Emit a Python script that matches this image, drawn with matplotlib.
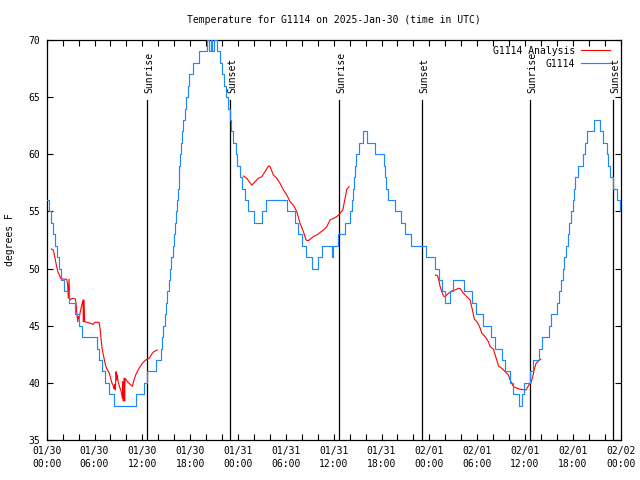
import matplotlib
matplotlib.use('Agg')
import matplotlib.pyplot as plt
from matplotlib.ticker import MultipleLocator, FixedLocator
import numpy as np

#--- Observations (hours since 2025-01-30 00:00 UTC, deg F) ---
# temperature steps: value holds from this hour until the next one
obs_hours = [0.0, 0.35, 0.55, 0.8, 1.1, 1.3, 1.5, 1.75, 2.2, 2.75, 3.5, 4.0, 4.45,
             6.35, 6.6, 6.95, 7.3, 7.8, 8.4, 11.25, 12.2, 12.63, 13.7,
             14.3, 14.45, 14.6, 14.8, 14.95, 15.15, 15.3, 15.5, 15.65, 15.8, 15.95,
             16.1, 16.25, 16.35, 16.45, 16.55, 16.65, 16.75, 16.9, 17.0, 17.1, 17.3,
             17.5, 17.7, 17.9, 18.3, 19.1, 20.1, 20.35, 20.55, 20.7, 20.95, 21.35,
             21.7, 21.95, 22.2, 22.45, 22.7, 22.95, 23.15, 23.35, 23.7, 23.9,
             24.2, 24.5, 24.85, 25.2, 26.0, 26.95, 27.45, 30.2, 31.1, 31.5, 32.05,
             32.55, 33.3, 34.0, 34.55, 35.75, 35.85, 36.6, 37.4, 38.1, 38.25, 38.4,
             38.55, 38.7, 38.85, 39.2, 39.7, 40.15, 41.2, 42.25, 42.45, 42.6, 42.75,
             43.65, 44.45, 44.95, 45.65, 47.6, 48.7, 49.15, 49.55, 50.0, 50.6, 50.95,
             52.35, 53.4, 53.9, 54.75, 55.7, 56.25, 57.05, 57.5, 58.1, 58.45, 59.3,
             59.6, 59.9, 60.6, 60.95, 61.7, 62.1, 62.95, 63.3, 64.0, 64.2, 64.45,
             64.7, 64.95, 65.15, 65.35, 65.55, 65.75, 66.0, 66.2, 66.3, 66.7, 67.3,
             67.5, 67.75, 68.7, 69.45, 69.8, 70.25, 70.45, 70.65, 71.05, 71.5, 71.85,
             72.0]
obs_temp = [56, 55, 54, 53, 52, 51, 50, 49, 48, 47, 46, 45, 44,
            43, 42, 41, 40, 39, 38, 39, 40, 41, 42,
            43, 44, 45, 46, 47, 48, 49, 50, 51, 52, 53,
            54, 55, 56, 57, 58, 59, 60, 61, 62, 63, 64,
            65, 66, 67, 68, 69, 70, 69, 70, 69, 70, 69,
            68, 67, 66, 65, 64, 63, 62, 61, 60, 59,
            58, 57, 56, 55, 54, 55, 56, 55, 54, 53, 52,
            51, 50, 51, 52, 51, 52, 53, 54, 55, 56, 57,
            58, 59, 60, 61, 62, 61, 60, 59, 58, 57, 56,
            55, 54, 53, 52, 51, 50, 49, 48, 47, 48, 49,
            48, 47, 46, 45, 44, 43, 42, 41, 40, 39, 38,
            39, 40, 41, 42, 43, 44, 45, 46, 47, 48, 49,
            50, 51, 52, 53, 54, 55, 56, 57, 58, 59, 60,
            61, 62, 63, 62, 61, 60, 59, 58, 57, 56, 55,
            55]

#--- Analysis (nan = no analysis) ---
ana_hours = [0.58, 0.83, 0.92, 1.08, 1.25, 1.42, 1.58, 1.75, 1.96, 2.51, 2.63, 2.71,
             2.8, 2.88, 3.22, 3.59, 3.68, 3.76, 3.89, 3.97, 4.05, 4.18, 4.35, 4.55,
             4.6, 4.68, 4.76, 5.1, 5.85, 6.02, 6.56, 6.69, 6.85, 6.98, 7.19, 7.36,
             7.52, 7.86, 8.03, 8.19, 8.32, 8.44, 8.53, 8.61, 8.7, 8.78, 8.86, 8.95,
             9.2, 9.36, 9.49, 9.57, 9.61, 9.7, 9.78, 9.82, 10.12, 10.54, 10.74,
             10.95, 11.16, 11.58, 12.0, 12.42, 12.84, 13.25, 13.46, 13.88,
             np.nan,
             24.67, 25.09, 25.72, 26.14, 26.55, 26.98, 27.39, 27.81, 28.02, 28.43,
             28.86, 29.27, 29.69, 30.11, 30.53, 30.94, 31.37, 31.78, 32.2, 32.53,
             32.82, 33.45, 33.88, 34.71, 35.13, 35.55, 36.39, 36.8, 37.14, 37.43,
             37.64, 37.93,
             np.nan,
             48.76, 49.01, 49.18, 49.35, 49.56, 49.77, 49.98, 50.39, 50.81, 51.44,
             51.65, 51.86, 52.27, 52.9, 53.11, 53.4, 53.65, 53.95, 54.16, 54.37,
             54.58, 54.99, 55.41, 55.62, 56.04, 56.29, 56.67, 57.09, 57.5, 57.92,
             58.13, 58.55, 58.97, 59.39, 60.14, 60.47, 60.72, 60.97, 61.14, 61.39,
             61.81, 61.98]
ana_temp = [51.71, 51.63, 51.34, 50.75, 50.17, 49.67, 49.44, 49.15, 49.09, 49.06, 48.56, 47.4,
            49.06, 47.25, 47.4, 47.34, 46.96, 46.23, 45.35, 45.79, 45.65, 46.09, 46.67, 47.25,
            45.35, 47.25, 45.35, 45.3, 45.12, 45.3, 45.3, 44.78, 43.6, 42.88, 42.15, 41.57,
            41.27, 40.84, 40.4, 39.96, 39.82, 39.47, 39.87, 39.38, 40.98, 40.25, 40.69, 40.11,
            39.53, 39.23, 38.65, 40.11, 38.42, 40.4, 38.42, 40.4, 40.11, 39.82, 39.7,
            40.25, 40.69, 41.27, 41.71, 42.0, 42.15, 42.59, 42.73, 42.88,
            np.nan,
            58.1, 57.9, 57.3, 57.6, 57.9, 58.04, 58.48, 58.98, 58.92, 58.19,
            57.9, 57.46, 56.88, 56.44, 55.85, 55.56, 54.98, 53.96, 53.23, 52.5,
            52.44, 52.8, 52.94, 53.38, 53.67, 54.25, 54.54, 54.83, 55.13, 56.15,
            56.94, 57.17,
            np.nan,
            49.44, 49.38, 49.0, 48.42, 47.98, 47.6, 47.54, 47.84, 48.04, 48.19,
            48.28, 48.25, 47.84, 47.4, 47.25, 46.38, 45.56, 45.35, 45.12, 44.78,
            44.34, 44.05, 43.6, 43.17, 42.94, 42.35, 41.48, 41.27, 40.98, 40.69,
            40.25, 39.67, 39.53, 39.44, 39.38, 39.82, 39.96, 40.55, 41.13, 41.71,
            42.0, 42.06]

#--- Sunrise / sunset (hours) ---
sun_hours = [12.62, 23.04, 36.71, 47.13, 60.68, 71.09]
sun_names = ['Sunrise', 'Sunset', 'Sunrise', 'Sunset', 'Sunrise', 'Sunset']

xtick_labels = ['01/30\n00:00', '01/30\n06:00', '01/30\n12:00', '01/30\n18:00',
                '01/31\n00:00', '01/31\n06:00', '01/31\n12:00', '01/31\n18:00',
                '02/01\n00:00', '02/01\n06:00', '02/01\n12:00', '02/01\n18:00',
                '02/02\n00:00']

#############################################################

FontSize = 7
plt.rcParams['font.family'] = 'DejaVu Sans Mono'
plt.rcParams['font.size'] = FontSize

fig = plt.figure(figsize=(6.4, 4.8), dpi=100)
ax = fig.add_axes([46.7/640, 40/480, 574/640, 400/480])

# sun lines + labels
for hh, name in zip(sun_hours, sun_names):
    ax.plot([hh, hh], [35, 64.75], color='black', lw=0.9, zorder=1)
    ax.text(hh + 0.2, 65.4, name, rotation=90, ha='center', va='bottom',
            fontsize=FontSize, zorder=1)

ax.plot(ana_hours, ana_temp, color='#ff0000', lw=0.8, zorder=2,
        label='G1114 Analysis')
ax.plot(obs_hours, obs_temp, color='#1e88ff', lw=0.85, zorder=3,
        drawstyle='steps-post', label='G1114')

ax.set_xlim(0, 72)
ax.set_ylim(35, 70)

ax.xaxis.set_major_locator(FixedLocator(np.arange(0, 73, 6)))
ax.xaxis.set_minor_locator(MultipleLocator(2))
ax.set_xticklabels(xtick_labels)
for lab in ax.get_xticklabels():
    lab.set_linespacing(1.45)
ax.yaxis.set_major_locator(MultipleLocator(5))

ax.tick_params(which='both', direction='in', top=True, right=True,
               length=4, width=0.8)
ax.tick_params(axis='x', pad=4)
ax.tick_params(axis='y', pad=5)
for sp in ax.spines.values():
    sp.set_linewidth(0.9)

ax.legend(loc='upper right', bbox_to_anchor=(1 - 3/574, 1 + 2/400),
          frameon=False, markerfirst=False,
          handlelength=3.0, handletextpad=0.6, borderpad=0.4,
          borderaxespad=0.4, labelspacing=0.3, fontsize=FontSize)

fig.text(333.7/640, 1 - 20/480, 'Temperature for G1114 on 2025-Jan-30 (time in UTC)',
         ha='center', va='center', fontsize=FontSize)
fig.text(10/640, 240/480, 'degrees F', rotation=90, ha='center', va='center',
         fontsize=FontSize)

plt.savefig('out.png', dpi=100)
plt.close()
